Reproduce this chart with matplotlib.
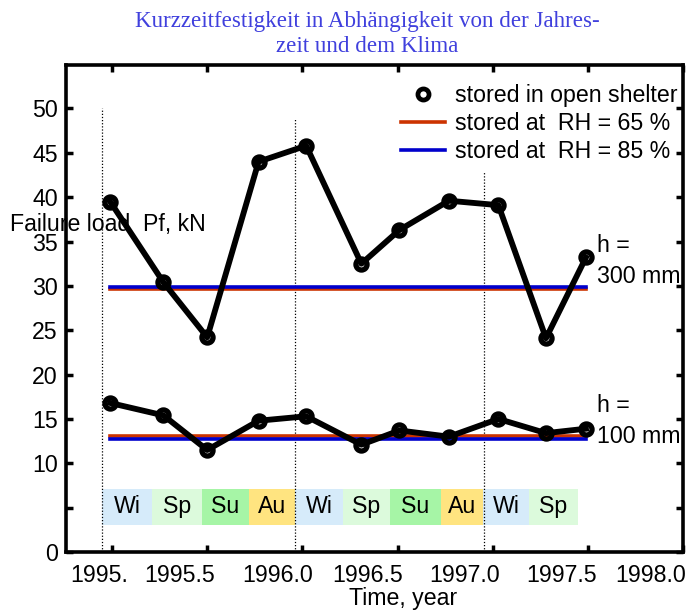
import matplotlib
matplotlib.use("Agg")
import matplotlib.pyplot as plt
from matplotlib.lines import Line2D

plt.rcParams['font.family'] = ['Liberation Sans', 'DejaVu Sans']

# ---- data ----
time_years = [1994.99, 1995.27, 1995.50, 1995.77, 1996.02, 1996.31,
              1996.51, 1996.77, 1997.03, 1997.28, 1997.49]
load_h300 = [39.5, 30.4, 24.2, 44.0, 45.8, 32.5, 36.3, 39.6, 39.1, 24.1, 33.2]
load_h100 = [16.8, 15.4, 11.5, 14.8, 15.3, 12.1, 13.7, 13.0, 15.0, 13.4, 13.9]

rh65_h300 = 29.6
rh85_h300 = 29.9
rh65_h100 = 13.1
rh85_h100 = 12.7
ref_span = [1994.99, 1997.49]

season_labels = ['Wi', 'Sp', 'Su', 'Au', 'Wi', 'Sp', 'Su', 'Au', 'Wi', 'Sp']
season_edges = [1994.947, 1995.210, 1995.473, 1995.720, 1995.961, 1996.213,
                1996.460, 1996.728, 1996.949, 1997.190, 1997.447]
season_colors = {'Wi': '#D6EBFA', 'Sp': '#DCFADC', 'Su': '#A6F5A6', 'Au': '#FFE480'}
season_band = [3.1, 7.1]

year_marks = [1994.947, 1995.961, 1996.954]
year_mark_tops = [50.0, 48.8, 43.0]

xtick_values = [1995.0, 1995.5, 1996.0, 1996.5, 1997.0, 1997.5, 1998.0]
xtick_labels = ['1995.', '1995.5', '1996.0', '1996.5', '1997.0', '1997.5', '1998.0']
xtick_label_pos = [1994.932, 1995.357, 1995.872, 1996.345, 1996.854, 1997.363, 1997.831]
ytick_values = [0, 5, 10, 15, 20, 25, 30, 35, 40, 45, 50]
ytick_labels = ['0', '', '10', '15', '20', '25', '30', '35', '40', '45', '50']

FS = 16.7
red = '#CC3300'
blue = '#0000CC'

fig = plt.figure(figsize=(6.91, 6.10), dpi=100)
ax = fig.add_axes([66/691, 1 - 552/610, (683-66)/691, (552-65)/610])
ax.set_xlim(1994.758, 1998.0)
ax.set_ylim(0, 54.9)

# season bands
for i, lab in enumerate(season_labels):
    x0, x1 = season_edges[i], season_edges[i+1]
    ax.fill_between([x0, x1], season_band[0], season_band[1],
                    color=season_colors[lab], linewidth=0, zorder=1)
    ax.text((x0 + x1) / 2, sum(season_band) / 2, lab, ha='center', va='center',
            fontsize=FS, zorder=2)

# year dotted lines
for xm, top in zip(year_marks, year_mark_tops):
    ax.plot([xm, xm], [0, top], color='black', linestyle=(0, (1, 1.5)),
            linewidth=0.9, zorder=3)

# reference lines
ax.plot(ref_span, [rh65_h300] * 2, color=red, linewidth=2.6, zorder=4)
ax.plot(ref_span, [rh85_h300] * 2, color=blue, linewidth=2.6, zorder=4)
ax.plot(ref_span, [rh65_h100] * 2, color=red, linewidth=2.6, zorder=4)
ax.plot(ref_span, [rh85_h100] * 2, color=blue, linewidth=2.6, zorder=4)

# measured series
for series in (load_h300, load_h100):
    ax.plot(time_years, series, color='black', linewidth=4.2, marker='o',
            markersize=8, markeredgewidth=3.8, markerfacecolor='none',
            markeredgecolor='black', zorder=5)

# annotations
ax.text(1997.55, 32.8, 'h =\n300 mm', ha='left', va='center', fontsize=FS,
        linespacing=1.44, zorder=6)
ax.text(1997.55, 14.8, 'h =\n100 mm', ha='left', va='center', fontsize=FS,
        linespacing=1.44, zorder=6)

# ticks
ax.set_xticks(xtick_values)
ax.set_xticklabels([])
ax.set_xticks(xtick_label_pos, minor=True)
ax.set_xticklabels(xtick_labels, minor=True)
ax.tick_params(axis='x', which='minor', length=0, labelsize=FS, pad=8.5)
ax.tick_params(axis='x', which='major', direction='in', length=5, width=2.5,
               top=True, bottom=True)
ax.set_yticks(ytick_values)
ax.set_yticklabels(ytick_labels)
ax.tick_params(axis='y', direction='in', length=5, width=2.5, labelsize=FS,
               left=True, right=True, pad=6)
for sp in ax.spines.values():
    sp.set_linewidth(2.6)

# legend
handles = [
    Line2D([], [], linestyle='none', marker='o', markersize=8, markeredgewidth=3.4,
           markerfacecolor='white', markeredgecolor='black'),
    Line2D([], [], color=red, linewidth=2.6),
    Line2D([], [], color=blue, linewidth=2.6),
]
labels = ['stored in open shelter', 'stored at  RH = 65 %', 'stored at  RH = 85 %']
ax.legend(handles, labels, loc='upper right', bbox_to_anchor=(1.022, 1.0),
          frameon=False, fontsize=FS, handlelength=1.9, handletextpad=0.45,
          labelspacing=0.22, borderaxespad=0.42)

# titles and axis labels
fig.text(367/691, 1 - 34/610,
         'Kurzzeitfestigkeit in Abhängigkeit von der Jahres-\nzeit und dem Klima',
         ha='center', va='center', fontsize=16.6, family='Liberation Serif',
         color='#4040DD', linespacing=1.3)
fig.text(10/691, 1 - 224/610, 'Failure load  Pf, kN', ha='left', va='center',
         fontsize=FS, zorder=10)
fig.text(403/691, 1 - 598/610, 'Time, year', ha='center', va='center', fontsize=FS)

fig.savefig('out.png', dpi=100)
